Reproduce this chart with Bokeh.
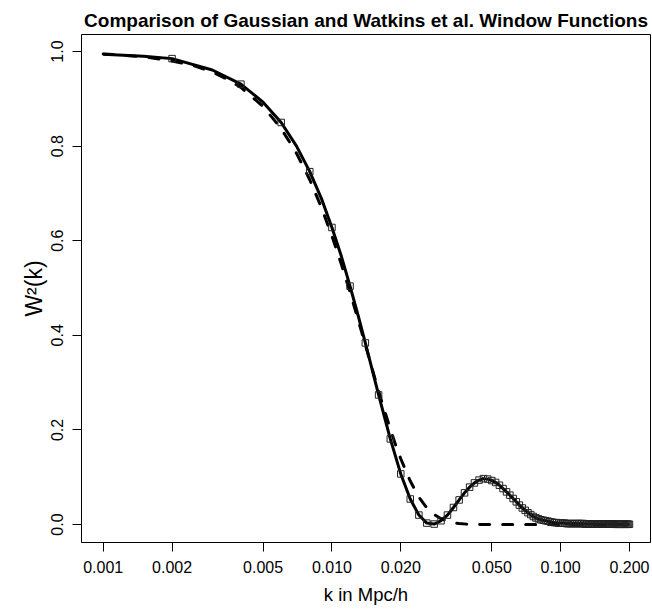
from bokeh.plotting import figure
from bokeh.models import Range1d, FixedTicker, PrintfTickFormatter
from bokeh.embed import file_html
from bokeh.resources import INLINE

# Watkins et al. window, sampled points (open squares)
square_k = [0.002, 0.004, 0.006, 0.008, 0.010, 0.012, 0.014, 0.016, 0.018, 0.020,
            0.022, 0.024, 0.026, 0.028, 0.030, 0.032, 0.034, 0.036, 0.038, 0.040,
            0.042, 0.044, 0.046, 0.048, 0.050, 0.052, 0.054, 0.056, 0.058, 0.060,
            0.062, 0.064, 0.066, 0.068, 0.070, 0.072, 0.074, 0.076, 0.078, 0.080,
            0.082, 0.084, 0.086, 0.088, 0.090, 0.092, 0.094, 0.096, 0.098, 0.100,
            0.102, 0.104, 0.106, 0.108, 0.110, 0.112, 0.114, 0.116, 0.118, 0.120,
            0.122, 0.124, 0.126, 0.128, 0.130, 0.132, 0.134, 0.136, 0.138, 0.140,
            0.142, 0.144, 0.146, 0.148, 0.150, 0.152, 0.154, 0.156, 0.158, 0.160,
            0.162, 0.164, 0.166, 0.168, 0.170, 0.172, 0.174, 0.176, 0.178, 0.180,
            0.182, 0.184, 0.186, 0.188, 0.190, 0.192, 0.194, 0.196, 0.198, 0.200]
square_w = [0.985, 0.931, 0.850, 0.746, 0.628, 0.504, 0.384, 0.274, 0.181, 0.107,
            0.054, 0.020, 0.003, 0.001, 0.008, 0.020, 0.036, 0.052, 0.067, 0.079,
            0.088, 0.094, 0.097, 0.096, 0.093, 0.089, 0.083, 0.076, 0.069, 0.062,
            0.055, 0.048, 0.041, 0.035, 0.030, 0.025, 0.021, 0.017, 0.014, 0.012,
            0.010, 0.009, 0.008, 0.007, 0.006, 0.005, 0.004, 0.004, 0.003, 0.003,
            0.003, 0.003, 0.002, 0.002, 0.002, 0.002, 0.002, 0.002, 0.002, 0.002,
            0.002, 0.002, 0.002, 0.001, 0.001, 0.001, 0.001, 0.001, 0.001, 0.001,
            0.001, 0.001, 0.001, 0.001, 0.001, 0.001, 0.001, 0.001, 0.001, 0.001,
            0.001, 0.001, 0.001, 0.001, 0.001, 0.0005, 0.0005, 0.0005, 0.0005, 0.0005,
            0.0005, 0.0005, 0.0005, 0.0005, 0.0005, 0.0005, 0.0005, 0.0005, 0.0005, 0.0005]

# extra readings of the solid Watkins curve at low k
low_k = [0.001, 0.0015, 0.003, 0.005, 0.007, 0.009, 0.011, 0.013]
low_w = [0.994, 0.990, 0.961, 0.893, 0.800, 0.689, 0.567, 0.443]

# Gaussian window (dashed)
gauss_k = [0.001, 0.0015, 0.002, 0.0025, 0.003, 0.0035, 0.004, 0.005, 0.006, 0.007,
           0.008, 0.009, 0.010, 0.011, 0.012, 0.013, 0.014, 0.015, 0.016, 0.017,
           0.018, 0.019, 0.020, 0.022, 0.024, 0.026, 0.028, 0.030, 0.033, 0.036,
           0.040, 0.050, 0.060, 0.080, 0.100, 0.150, 0.200]
gauss_w = [0.995, 0.989, 0.980, 0.970, 0.957, 0.941, 0.924, 0.884, 0.837, 0.785,
           0.729, 0.670, 0.610, 0.550, 0.491, 0.434, 0.380, 0.329, 0.282, 0.240,
           0.202, 0.168, 0.139, 0.092, 0.058, 0.035, 0.021, 0.012, 0.005, 0.002,
           0.0004, 0.0, 0.0, 0.0, 0.0, 0.0, 0.0]

x_ticks = [0.001, 0.002, 0.005, 0.010, 0.020, 0.050, 0.100, 0.200]
y_ticks = [0.0, 0.2, 0.4, 0.6, 0.8, 1.0]

pairs = sorted(zip(low_k + square_k, low_w + square_w))
line_k = [a for a, b in pairs]
line_w = [b for a, b in pairs]

FONT = "Liberation Sans"

p = figure(width=652, height=611, x_axis_type="log",
           x_range=Range1d(10 ** -3.095, 10 ** -0.607),
           y_range=Range1d(-0.038, 1.036),
           output_backend="svg", toolbar_location=None,
           min_border_left=81, min_border_right=2,
           min_border_top=34, min_border_bottom=69,
           title="Comparison of Gaussian and Watkins et al. Window Functions")

p.title.align = "center"
p.title.text_font = FONT
p.title.text_font_size = "19px"
p.title.text_font_style = "bold"
p.title.text_color = "black"
p.title.standoff = 8
p.title.offset = -4

p.grid.visible = False
p.outline_line_color = "black"
p.outline_line_width = 1
p.background_fill_color = "white"
p.border_fill_color = "white"

p.xaxis.ticker = FixedTicker(ticks=x_ticks)
p.xaxis.formatter = PrintfTickFormatter(format="%.3f")
p.yaxis.ticker = FixedTicker(ticks=y_ticks)
p.yaxis.formatter = PrintfTickFormatter(format="%.1f")
p.yaxis.major_label_orientation = "vertical"

for ax in (p.xaxis[0], p.yaxis[0]):
    ax.axis_line_color = None
    ax.major_tick_out = 9
    ax.major_tick_in = 0
    ax.major_tick_line_color = "black"
    ax.minor_tick_line_color = None
    ax.major_label_text_font = FONT
    ax.major_label_text_font_size = "16px"
    ax.major_label_text_color = "black"
    ax.axis_label_text_font = FONT
    ax.axis_label_text_font_style = "normal"
    ax.axis_label_text_color = "black"

p.xaxis.axis_label = "k in Mpc/h"
p.yaxis.axis_label = "W²(k)"
p.xaxis.axis_label_text_font_size = "18.5px"
p.yaxis.axis_label_text_font_size = "23px"
p.xaxis.major_label_standoff = 9
p.xaxis.axis_label_standoff = 8
p.yaxis.major_label_standoff = 9
p.yaxis.axis_label_standoff = 2

p.line(gauss_k, gauss_w, line_width=3, line_color="black",
       line_dash="10 13", line_cap="round")
p.line(line_k, line_w, line_width=3, line_color="black")
p.scatter(square_k, square_w, marker="square", size=6.5,
          fill_color=None, line_color="#222222", line_width=1)

open("out.html", "w").write(file_html(p, INLINE))
